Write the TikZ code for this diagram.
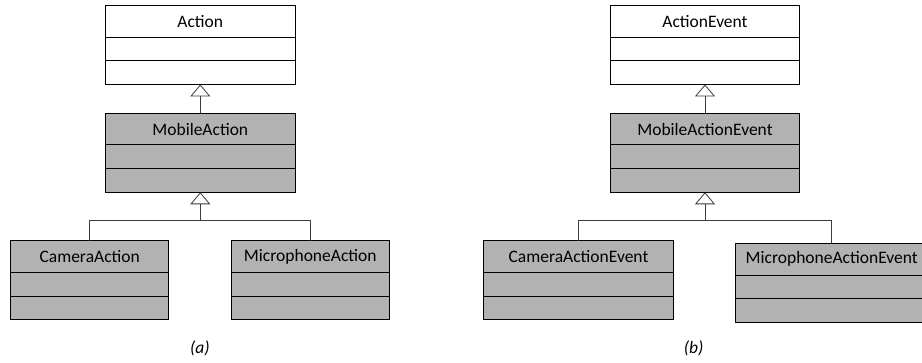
\documentclass[tikz,border=0pt]{standalone}
\usepackage{fontspec}
\setmainfont{Carlito}
\usepackage{tikz}
\usetikzlibrary{positioning,arrows.meta}

\definecolor{boxgray}{RGB}{178,178,178}
\definecolor{linegray}{RGB}{60,60,60}

\tikzset{
  classname/.style={draw, inner sep=0pt, outer sep=0pt, minimum height=31.7pt, font=\fontsize{17.5}{19}\selectfont},
  classpart/.style={draw, inner sep=0pt, outer sep=0pt, minimum height=23.7pt},
  inherit/.style={draw=linegray, -{Triangle[open,length=12pt,width=20pt]}},
}

\begin{document}
\begin{tikzpicture}[x=1pt, y=-1pt, line width=0.8pt]
\clip (0,0) rectangle (922,362);

% (a)
\begin{scope}[every node/.append style={minimum width=190pt}]
\node[classname] (action) at (200.3,21.2) {Action};
\node[classpart, below=0pt of action] (action attr) {};
\node[classpart, below=0pt of action attr] (action ops) {};
\end{scope}

\begin{scope}[every node/.append style={minimum width=190pt, fill=boxgray}]
\node[classname] (mobile) at (200.3,129) {MobileAction};
\node[classpart, below=0pt of mobile] (mobile attr) {};
\node[classpart, below=0pt of mobile attr] (mobile ops) {};
\end{scope}

\begin{scope}[every node/.append style={minimum width=158pt, fill=boxgray}]
\node[classname] (camera) at (89.7,256.5) {CameraAction};
\node[classpart, below=0pt of camera] (camera attr) {};
\node[classpart, below=0pt of camera attr] (camera ops) {};
\node[classname] (micro) at (310.3,256.5) {MicrophoneAction};
\node[classpart, below=0pt of micro] (micro attr) {};
\node[classpart, below=0pt of micro attr] (micro ops) {};
\end{scope}

\coordinate[below=28pt of mobile ops] (join a);
\path[inherit] (mobile) -- (action ops);
\draw[linegray] (camera) |- (join a) -| (micro);
\path[inherit] (join a) -- (mobile ops);

\node[font=\fontsize{17.5}{19}\selectfont\itshape] (label a) at (200,348.3) {(a)};

% (b)
\begin{scope}[every node/.append style={minimum width=189.4pt}]
\node[classname] (actionev) at (705,21.2) {ActionEvent};
\node[classpart, below=0pt of actionev] (actionev attr) {};
\node[classpart, below=0pt of actionev attr] (actionev ops) {};
\end{scope}

\begin{scope}[every node/.append style={minimum width=189.4pt, fill=boxgray}]
\node[classname] (mobileev) at (705,129) {MobileActionEvent};
\node[classpart, below=0pt of mobileev] (mobileev attr) {};
\node[classpart, below=0pt of mobileev attr] (mobileev ops) {};
\node[classname] (cameraev) at (578.5,256.5) {CameraActionEvent};
\node[classpart, below=0pt of cameraev] (cameraev attr) {};
\node[classpart, below=0pt of cameraev attr] (cameraev ops) {};
\node[classname, minimum width=193pt] (microev) at (831.7,259.2) {MicrophoneActionEvent};
\node[classpart, minimum width=193pt, below=0pt of microev] (microev attr) {};
\node[classpart, minimum width=193pt, below=0pt of microev attr] (microev ops) {};
\end{scope}

\coordinate[below=28pt of mobileev ops] (join b);
\path[inherit] (mobileev) -- (actionev ops);
\draw[linegray] (cameraev) |- (join b) -| (microev);
\path[inherit] (join b) -- (mobileev ops);

\node[font=\fontsize{17.5}{19}\selectfont\itshape] (label b) at (693.7,348.3) {(b)};

\end{tikzpicture}
\end{document}
